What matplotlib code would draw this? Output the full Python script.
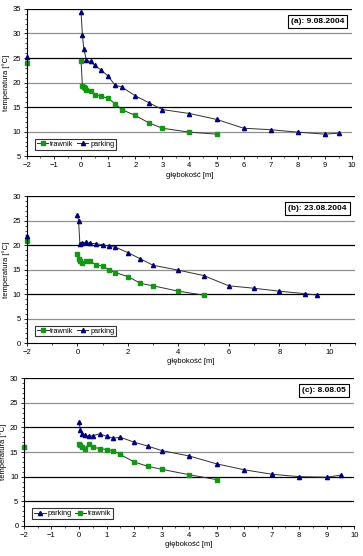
import numpy as np
from matplotlib import pyplot as plt
from matplotlib.ticker import MultipleLocator

plt.rcParams['font.family'] = ['Liberation Sans', 'DejaVu Sans']
plt.rc('font', size=5.5)

# --- data ---
# panel (a): 9.08.2004
a_park_x = [0, 0.05, 0.1, 0.2, 0.35, 0.5, 0.75, 1.0, 1.25, 1.5, 2, 2.5, 3, 4, 5, 6, 7, 8, 9, 9.5]
a_park_y = [34.3, 29.6, 26.9, 24.5, 24.3, 23.5, 22.5, 21.3, 19.5, 19.1, 17.3, 15.9, 14.5, 13.7, 12.5, 10.7, 10.4, 9.9, 9.5, 9.7]
a_traw_x = [0, 0.05, 0.1, 0.15, 0.2, 0.35, 0.5, 0.75, 1.0, 1.25, 1.5, 2, 2.5, 3, 4, 5]
a_traw_y = [24.4, 19.2, 19.0, 18.8, 18.5, 18.2, 17.5, 17.2, 16.8, 15.7, 14.5, 13.3, 11.8, 10.7, 9.9, 9.5]
a_park_surf = 25.3   # value at -2 m (air)
a_traw_surf = 24.0

# panel (b): 23.08.2004
b_park_x = [0, 0.05, 0.1, 0.2, 0.35, 0.5, 0.75, 1.0, 1.25, 1.5, 2, 2.5, 3, 4, 5, 6, 7, 8, 9, 9.5]
b_park_y = [26.2, 24.9, 20.3, 20.5, 20.6, 20.4, 20.3, 20.1, 19.8, 19.6, 18.5, 17.2, 15.9, 14.9, 13.8, 11.7, 11.2, 10.6, 10.1, 9.8]
b_traw_x = [0, 0.05, 0.1, 0.2, 0.35, 0.5, 0.75, 1.0, 1.25, 1.5, 2, 2.5, 3, 4, 5]
b_traw_y = [18.3, 17.1, 16.8, 16.4, 16.7, 16.7, 16.0, 15.7, 15.0, 14.4, 13.6, 12.2, 11.7, 10.6, 9.8]
b_park_surf = 21.9
b_traw_surf = 20.8

# panel (c): 8.08.05
c_park_x = [0, 0.05, 0.1, 0.2, 0.35, 0.5, 0.75, 1.0, 1.25, 1.5, 2, 2.5, 3, 4, 5, 6, 7, 8, 9, 9.5]
c_park_y = [21.1, 19.5, 18.7, 18.4, 18.2, 18.3, 18.7, 18.2, 17.8, 18.0, 17.0, 16.2, 15.3, 14.2, 12.6, 11.4, 10.5, 10.0, 9.9, 10.3]
c_traw_x = [0, 0.05, 0.1, 0.2, 0.35, 0.5, 0.75, 1.0, 1.25, 1.5, 2, 2.5, 3, 4, 5]
c_traw_y = [16.6, 16.4, 16.1, 15.7, 16.6, 16.0, 15.7, 15.5, 15.3, 14.5, 13.0, 12.1, 11.5, 10.4, 9.4]
c_traw_surf = 16.0

PARK = '#000080'
TRAW = '#119911'
LINE = '#303030'


def style_axes(ax, xlim, xstep, xminor, ylim, dark, grey):
    ax.set_xlim(*xlim)
    ax.set_ylim(*ylim)
    ax.xaxis.set_major_locator(MultipleLocator(xstep))
    ax.xaxis.set_minor_locator(MultipleLocator(xminor))
    ax.yaxis.set_major_locator(MultipleLocator(5))
    ax.yaxis.set_minor_locator(MultipleLocator(1))
    for v in dark:
        ax.axhline(v, color='black', lw=0.9, zorder=0)
    for v in grey:
        ax.axhline(v, color='#909090', lw=0.9, zorder=0)
    ax.spines['top'].set_visible(False)
    ax.spines['right'].set_visible(False)
    ax.spines['left'].set_linewidth(0.8)
    ax.spines['bottom'].set_linewidth(0.8)
    ax.tick_params(which='major', direction='out', length=2.5, width=0.6, pad=1.5)
    ax.tick_params(which='minor', direction='out', length=1.5, width=0.5)
    ax.set_xlabel('głębokość [m]', labelpad=2)
    ax.set_ylabel('temperatura [°C]', labelpad=2)


def date_box(ax, txt):
    ax.text(0.975, 0.915, txt, transform=ax.transAxes, ha='right', va='center',
            fontsize=6, fontweight='bold',
            bbox=dict(boxstyle='square,pad=0.35', fc='white', ec='black', lw=0.8))


def legend(ax):
    leg = ax.legend(loc='lower left', bbox_to_anchor=(0.02, 0.035), ncol=2,
                    frameon=True, fancybox=False, handlelength=1.6,
                    handletextpad=0.25, columnspacing=0.4, borderpad=0.25,
                    borderaxespad=0.2, fontsize=5.3)
    leg.get_frame().set_edgecolor('black')
    leg.get_frame().set_linewidth(0.8)


fig = plt.figure(figsize=(3.63, 5.56), dpi=100)

# (a)
ax1 = fig.add_axes([0.074, 0.719, 0.896, 0.265])
ax1.plot(a_traw_x, a_traw_y, '-s', color=LINE, mfc=TRAW, mec=TRAW, ms=3.3, lw=0.7, label='trawnik')
ax1.plot(a_park_x, a_park_y, '-^', color=LINE, mfc=PARK, mec=PARK, ms=3, lw=0.7, label='parking')
ax1.plot([-2], [a_traw_surf], 's', color=TRAW, ms=3.3, clip_on=False)
ax1.plot([-2], [a_park_surf], '^', color=PARK, ms=3, clip_on=False)
style_axes(ax1, (-2, 10), 1, 0.5, (5, 35), [35, 25, 15], [30, 20, 10])
date_box(ax1, '(a): 9.08.2004')
legend(ax1)

# (b)
ax2 = fig.add_axes([0.074, 0.383, 0.904, 0.264])
ax2.plot(b_traw_x, b_traw_y, '-s', color=LINE, mfc=TRAW, mec=TRAW, ms=3.3, lw=0.7, label='trawnik')
ax2.plot(b_park_x, b_park_y, '-^', color=LINE, mfc=PARK, mec=PARK, ms=3, lw=0.7, label='parking')
ax2.plot([-2], [b_traw_surf], 's', color=TRAW, ms=3.3, clip_on=False)
ax2.plot([-2], [b_park_surf], '^', color=PARK, ms=3, clip_on=False)
style_axes(ax2, (-2, 11), 2, 1, (0, 30), [30, 20, 10], [25, 15, 5])
date_box(ax2, '(b): 23.08.2004')
legend(ax2)

# (c)
ax3 = fig.add_axes([0.066, 0.054, 0.91, 0.266])
ax3.plot(c_park_x, c_park_y, '-^', color=LINE, mfc=PARK, mec=PARK, ms=3, lw=0.7, label='parking')
ax3.plot(c_traw_x, c_traw_y, '-s', color=LINE, mfc=TRAW, mec=TRAW, ms=3.3, lw=0.7, label='trawnik')
ax3.plot([-2], [c_traw_surf], 's', color=TRAW, ms=3.3, clip_on=False)
style_axes(ax3, (-2, 10), 1, 0.5, (0, 30), [30, 20, 10, 5], [25, 15])
date_box(ax3, '(c): 8.08.05')
legend(ax3)

fig.savefig('out.png', dpi=100)
